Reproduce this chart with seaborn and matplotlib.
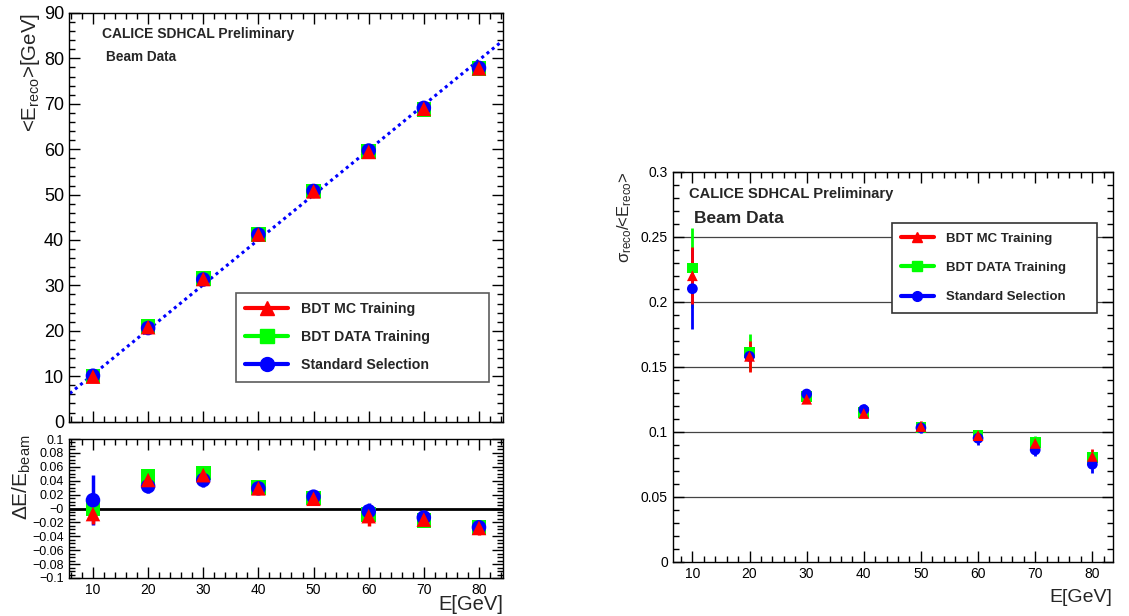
import numpy as np
import pandas as pd
import matplotlib
matplotlib.use("Agg")
import matplotlib.pyplot as plt
import seaborn as sns
from matplotlib.ticker import MultipleLocator, FuncFormatter
from matplotlib.lines import Line2D

E_BEAM = [10, 20, 30, 40, 50, 60, 70, 80]
SERIES = ["BDT MC Training", "BDT DATA Training", "Standard Selection"]

# <E_reco> [GeV]
ereco_mc = [9.9, 20.8, 31.4, 41.2, 50.7, 59.4, 68.9, 77.8]
ereco_data = [10.0, 20.9, 31.5, 41.2, 50.8, 59.5, 68.8, 77.8]
ereco_std = [10.1, 20.6, 31.3, 41.2, 50.8, 59.7, 69.1, 77.9]
fit_x = [5.8, 84.2]
fit_y = [6.2, 83.8]

# dE/E_beam
dev_mc = [-0.008, 0.041, 0.048, 0.029, 0.014, -0.011, -0.016, -0.028]
dev_mc_err = [0.015, 0.006, 0.012, 0.003, 0.004, 0.014, 0.004, 0.010]
dev_data = [0.000, 0.046, 0.051, 0.030, 0.015, -0.009, -0.017, -0.027]
dev_data_err = [0.006, 0.010, 0.008, 0.003, 0.004, 0.006, 0.004, 0.005]
dev_std = [0.012, 0.032, 0.041, 0.029, 0.017, -0.004, -0.013, -0.027]
dev_std_err = [0.036, 0.010, 0.010, 0.003, 0.004, 0.012, 0.004, 0.006]

# sigma_reco / <E_reco>
res_mc = [0.220, 0.158, 0.125, 0.114, 0.104, 0.097, 0.091, 0.081]
res_mc_err = [0.022, 0.012, 0.003, 0.003, 0.004, 0.004, 0.005, 0.006]
res_data = [0.226, 0.161, 0.127, 0.115, 0.103, 0.097, 0.092, 0.080]
res_data_err = [0.031, 0.014, 0.003, 0.003, 0.003, 0.004, 0.005, 0.005]
res_std = [0.210, 0.158, 0.129, 0.117, 0.103, 0.095, 0.086, 0.075]
res_std_err = [0.031, 0.005, 0.004, 0.004, 0.004, 0.005, 0.005, 0.007]

COLORS = {"BDT MC Training": "#ff0000", "BDT DATA Training": "#00ff00", "Standard Selection": "#0000ff"}
MARKERS = {"BDT MC Training": "^", "BDT DATA Training": "s", "Standard Selection": "o"}
DRAW_ORDER = ["BDT DATA Training", "Standard Selection", "BDT MC Training"]

sns.set_style("ticks")
plt.rcParams["font.family"] = ["Liberation Sans", "DejaVu Sans"]
plt.rcParams["mathtext.fontset"] = "custom"
plt.rcParams["mathtext.rm"] = "Liberation Sans"
plt.rcParams["mathtext.it"] = "Liberation Sans"
plt.rcParams["axes.linewidth"] = 1.0
plt.rcParams["axes.edgecolor"] = "black"


def frame(values, errors):
    rows = []
    for name, (v, e) in zip(SERIES, zip(values, errors)):
        for x, y, err in zip(E_BEAM, v, e):
            rows.append({"E": x, "val": y, "err": err, "series": name})
    return pd.DataFrame(rows)


def root_ticks(ax, ymaj, ymin, xmaj=10, xmin=2, lab=9):
    ax.xaxis.set_major_locator(MultipleLocator(xmaj))
    ax.xaxis.set_minor_locator(MultipleLocator(xmin))
    ax.yaxis.set_major_locator(MultipleLocator(ymaj))
    ax.yaxis.set_minor_locator(MultipleLocator(ymin))
    ax.tick_params(which="both", direction="in", top=True, right=True, labelsize=lab, colors="black")
    ax.tick_params(which="major", length=8, width=1)
    ax.tick_params(which="minor", length=4, width=1)


def draw_points(ax, df, ms, lw):
    for name in DRAW_ORDER:
        sub = df[df["series"] == name]
        ax.errorbar(sub["E"], sub["val"], yerr=sub["err"], fmt="none",
                    ecolor=COLORS[name], elinewidth=lw, capsize=0, zorder=2)
        sns.scatterplot(data=sub, x="E", y="val", ax=ax, marker=MARKERS[name],
                        color=COLORS[name], s=ms, edgecolor="none", linewidth=0,
                        legend=False, zorder=3)


def legend_handles(ms):
    return [Line2D([0], [0], color=COLORS[n], lw=3, marker=MARKERS[n], markersize=ms) for n in SERIES]


def place_ylabel(ax, x):
    ax.yaxis.set_label_coords(x, 1.0)
    ax.yaxis.label.set_rotation_mode("anchor")
    ax.yaxis.label.set_ha("right")
    ax.yaxis.label.set_va("bottom")


fmt = FuncFormatter(lambda v, p: ("%g" % round(v, 4)).replace("-", "\u2212"))

fig = plt.figure(figsize=(11.29, 6.16), dpi=100)

# ---- top-left: mean reconstructed energy
ax1 = fig.add_axes([0.0611, 0.3156, 0.3844, 0.6633])
df1 = frame([ereco_mc, ereco_data, ereco_std], [[0] * 8] * 3)
ax1.plot(fit_x, fit_y, color="#0000ff", lw=2.2, ls=(0, (1, 1.2)), zorder=1)
draw_points(ax1, df1, 110, 2)
ax1.set_xlim(5.65, 84.35)
ax1.set_ylim(0, 90)
root_ticks(ax1, 10, 2, lab=13)
ax1.tick_params(labelbottom=False)
ax1.set_xlabel("")
ax1.set_ylabel(r"<E$_{\mathrm{reco}}$>[GeV]", fontsize=14.8)
place_ylabel(ax1, -0.062)
ax1.text(0.076, 0.949, "CALICE SDHCAL Preliminary", transform=ax1.transAxes,
         fontsize=10, fontweight="bold", va="center")
ax1.text(0.085, 0.892, "Beam Data", transform=ax1.transAxes,
         fontsize=9.8, fontweight="bold", va="center")
leg1 = ax1.legend(legend_handles(10), [s + "             " for s in SERIES], loc="upper left",
                  bbox_to_anchor=(0.385, 0.315),
                  borderaxespad=0, frameon=True, fancybox=False, edgecolor="#333333",
                  prop={"weight": "bold", "size": 10.2}, handlelength=3.0, labelspacing=1.0,
                  borderpad=0.65, handletextpad=0.9)
leg1.get_frame().set_linewidth(1.2)

# ---- bottom-left: relative deviation
ax2 = fig.add_axes([0.0611, 0.0617, 0.3844, 0.2256])
df2 = frame([dev_mc, dev_data, dev_std], [dev_mc_err, dev_data_err, dev_std_err])
ax2.axhline(0, color="black", lw=2, zorder=1)
draw_points(ax2, df2, 110, 2.5)
ax2.set_xlim(5.65, 84.35)
ax2.set_ylim(-0.1, 0.1)
root_ticks(ax2, 0.02, 0.005, lab=9)
ax2.tick_params(axis="x", labelsize=10)
ax2.yaxis.set_major_formatter(fmt)
ax2.set_ylabel(r"$\Delta$E/E$_{\mathrm{beam}}$", fontsize=15)
place_ylabel(ax2, -0.083)
ax2.yaxis.set_label_coords(-0.083, 1.03)
ax2.set_xlabel("E[GeV]", fontsize=14.5)
ax2.xaxis.set_label_coords(1.0, -0.125)
ax2.xaxis.label.set_ha("right")

# ---- right: energy resolution
ax3 = fig.add_axes([0.5958, 0.0881, 0.3897, 0.6331])
df3 = frame([res_mc, res_data, res_std], [res_mc_err, res_data_err, res_std_err])
for g in [0.05, 0.1, 0.15, 0.2, 0.25]:
    ax3.axhline(g, color="#444444", lw=0.9, zorder=0)
draw_points(ax3, df3, 60, 2)
ax3.set_xlim(6.55, 83.55)
ax3.set_ylim(0, 0.3)
root_ticks(ax3, 0.05, 0.01, lab=10)
ax3.yaxis.set_major_formatter(fmt)
ax3.set_ylabel(r"$\sigma_{\mathrm{reco}}$/<E$_{\mathrm{reco}}$>", fontsize=12)
place_ylabel(ax3, -0.088)
ax3.set_xlabel("E[GeV]", fontsize=14)
ax3.xaxis.set_label_coords(1.0, -0.07)
ax3.xaxis.label.set_ha("right")
ax3.text(0.037, 0.943, "CALICE SDHCAL Preliminary", transform=ax3.transAxes,
         fontsize=10.6, fontweight="bold", va="center")
ax3.text(0.048, 0.879, "Beam Data", transform=ax3.transAxes,
         fontsize=12.5, fontweight="bold", va="center")
leg3 = ax3.legend(legend_handles(7), [s + "      " for s in SERIES], loc="upper left",
                  bbox_to_anchor=(0.498, 0.868),
                  borderaxespad=0, frameon=True, fancybox=False, edgecolor="#333333",
                  prop={"weight": "bold", "size": 9.5}, handlelength=2.5, labelspacing=1.3,
                  borderpad=0.7, handletextpad=0.9)
leg3.get_frame().set_linewidth(1.2)
leg3.set_zorder(5)
leg3.get_frame().set_facecolor("white")
leg3.get_frame().set_alpha(1)

fig.savefig("out.png", dpi=100)
